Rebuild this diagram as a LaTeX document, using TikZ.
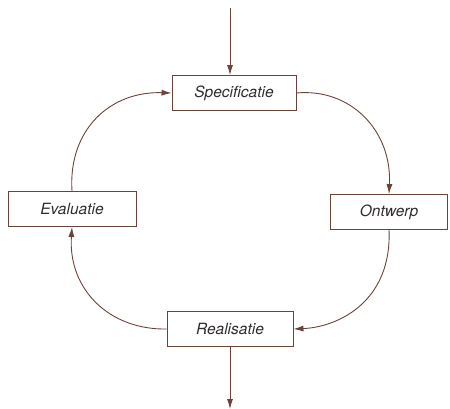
\documentclass[tikz,border=0pt]{standalone}
\usepackage{fontspec}
\setmainfont{TeX Gyre Heros}
\usetikzlibrary{arrows.meta}
\definecolor{ln}{RGB}{105,68,56}
\definecolor{tx}{RGB}{50,45,45}
\tikzset{
  box/.style={draw=ln, line width=0.9pt, minimum height=35pt, inner sep=0pt, font=\fontsize{15.5}{18}\selectfont\itshape, text=tx},
  conn/.style={draw=ln, line width=0.9pt, -{Latex[length=10pt,width=6pt]}}
}
\begin{document}
\begin{tikzpicture}[x=1pt,y=-1pt]
\useasboundingbox (0,0) rectangle (450,409);
\node[box, minimum width=124pt] (spec) at (234,93) {Specificatie};
\node[box, minimum width=128pt] (eval) at (72,209) {Evaluatie};
\node[box, minimum width=117pt] (ontw) at (389,212) {Ontwerp};
\node[box, minimum width=126pt] (real) at (230,329) {Realisatie};
\coordinate (top) at (230,8);
\coordinate (bot) at (230,409);
\draw[conn] (top) -- (spec.north -| top);
\draw[conn] (real.south -| bot) -- (bot);
\draw[conn] (spec.east) .. controls (350,88) and (392,130) .. (ontw.north);
\draw[conn] (ontw.south) .. controls (392,300) and (340,327) .. (real.east);
\draw[conn] (real.west) .. controls (110,330) and (68,290) .. (eval.south);
\draw[conn] (eval.north) .. controls (68,130) and (110,91) .. (spec.west);
\end{tikzpicture}
\end{document}
